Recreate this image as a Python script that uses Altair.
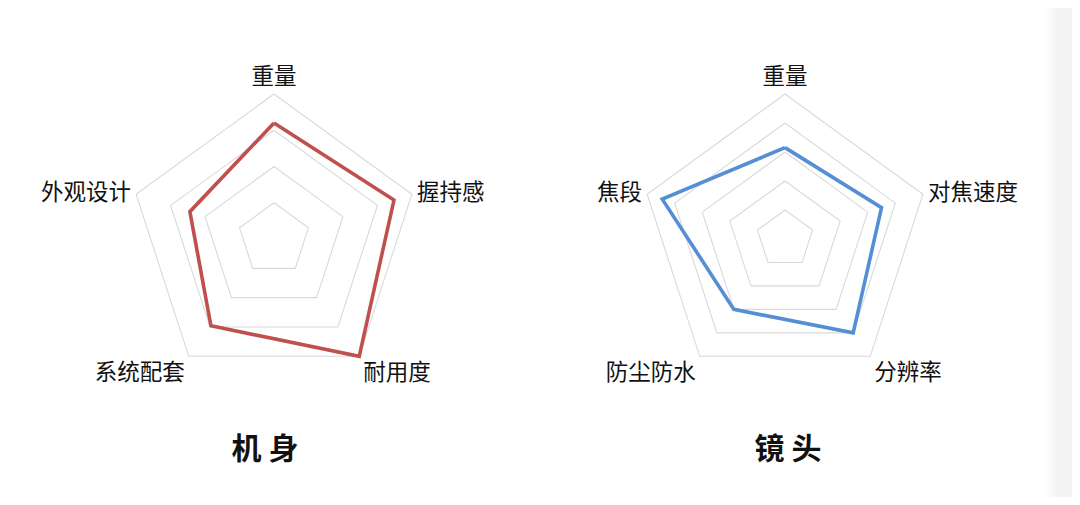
import altair as alt
import pandas as pd

# ---- data ----
body_axes = ["重量", "握持感", "耐用度", "系统配套", "外观设计"]
body_scores = [80, 87, 100, 74, 61]
body_rings = [25, 50, 75, 100]

lens_axes = ["重量", "对焦速度", "分辨率", "防尘防水", "焦段"]
lens_scores = [63, 70, 80, 60, 89]
lens_rings = [20, 40, 60, 80, 100]

panel_titles = ["机 身", "镜 头"]

# ---- layout ----
W, H = 1064, 489
R = 145
CY = 239
CX_EXPR = "datum.panel == 0 ? 274 : 785"
FONT = "Noto Sans CJK SC"

panels = [(body_axes, body_scores, body_rings), (lens_axes, lens_scores, lens_rings)]

series_rows, grid_rows, label_rows = [], [], []
for p, (axes, scores, rings) in enumerate(panels):
    n = len(axes)
    for i in range(n + 1):
        k = i % n
        series_rows.append(dict(panel=p, idx=i, k=k, n=n, v=scores[k]))
    for ring in rings:
        for i in range(n + 1):
            grid_rows.append(dict(panel=p, ring=ring, idx=i, k=i % n, n=n, v=ring))
    for k, a in enumerate(axes):
        label_rows.append(dict(panel=p, k=k, n=n, label=a))

title_rows = [dict(panel=p, label=t) for p, t in enumerate(panel_titles)]

series_df = pd.DataFrame(series_rows)
grid_df = pd.DataFrame(grid_rows)
label_df = pd.DataFrame(label_rows)
title_df = pd.DataFrame(title_rows)

xs = alt.Scale(domain=[8, 8 + W], nice=False, zero=False)
ys = alt.Scale(domain=[8 + H, 8], nice=False, zero=False)


def polar(ch):
    return ch.transform_calculate(
        theta="2*PI*datum.k/datum.n",
        cx=CX_EXPR,
    ).transform_calculate(
        x=f"datum.cx + {R}*datum.v/100*sin(datum.theta)",
        y=f"{CY} - {R}*datum.v/100*cos(datum.theta)",
    )


grid = polar(alt.Chart(grid_df)).mark_line(
    color="#d9d9d9", strokeWidth=1.1
).encode(
    x=alt.X("x:Q", scale=xs, axis=None),
    y=alt.Y("y:Q", scale=ys, axis=None),
    order="idx:Q",
    detail="gid:N",
).transform_calculate(gid="datum.panel + '_' + datum.ring")

series = polar(alt.Chart(series_df)).mark_line(
    strokeWidth=3.6, strokeJoin="miter"
).encode(
    x=alt.X("x:Q", scale=xs, axis=None),
    y=alt.Y("y:Q", scale=ys, axis=None),
    order="idx:Q",
    detail="panel:N",
    color=alt.Color(
        "panel:N",
        scale=alt.Scale(domain=[0, 1], range=["#c0504d", "#558ed5"]),
        legend=None,
    ),
)


def label_layer(cond, align):
    return alt.Chart(label_df).transform_calculate(
        theta="2*PI*datum.k/datum.n",
        cx=CX_EXPR,
    ).transform_calculate(
        s="sin(datum.theta)",
        c="cos(datum.theta)",
    ).transform_calculate(
        vx=f"datum.cx + {R}*datum.s",
        vy=f"{CY} - {R}*datum.c",
    ).transform_calculate(
        lx="datum.vx + (datum.s > 0.1 ? (datum.c < 0 ? 4 : 5) : (datum.s < -0.1 ? (datum.c < 0 ? -4 : -5) : 0))",
        ly="datum.vy + (datum.c > 0.9 ? -17 : (datum.c < -0.5 ? 17 : -1))",
    ).transform_filter(cond).mark_text(
        font=FONT, fontSize=22.5, color="#111111", align=align, baseline="middle"
    ).encode(
        x=alt.X("lx:Q", scale=xs, axis=None),
        y=alt.Y("ly:Q", scale=ys, axis=None),
        text="label:N",
    )


labels_c = label_layer("datum.s >= -0.1 && datum.s <= 0.1", "center")
labels_l = label_layer("datum.s > 0.1", "left")
labels_r = label_layer("datum.s < -0.1", "right")

titles = alt.Chart(title_df).transform_calculate(
    tx="datum.panel == 0 ? 265 : 788",
    ty="450",
).mark_text(
    font=FONT, fontSize=30, fontWeight="bold", color="#111111",
    align="center", baseline="middle"
).encode(
    x=alt.X("tx:Q", scale=xs, axis=None),
    y=alt.Y("ty:Q", scale=ys, axis=None),
    text="label:N",
)

edge_df = pd.DataFrame({"e": [0]})
edge_grad = alt.Chart(edge_df).mark_rect(
    color=alt.Gradient(
        gradient="linear",
        stops=[
            alt.GradientStop(color="#ffffff", offset=0),
            alt.GradientStop(color="#f3f3f3", offset=1),
        ],
        x1=0, x2=1, y1=0, y2=0,
    )
).encode(
    x=alt.value(1045 - 8), x2=alt.value(1059 - 8),
    y=alt.value(0), y2=alt.value(H + 8),
)
edge_band = alt.Chart(edge_df).mark_rect(color="#f4f4f4").encode(
    x=alt.value(1059 - 8), x2=alt.value(W + 8),
    y=alt.value(0), y2=alt.value(H + 8),
)

chart = alt.layer(
    edge_grad, edge_band, grid, series, labels_c, labels_l, labels_r, titles
).properties(
    width=W, height=H, padding=0, autosize=alt.AutoSizeParams(type="none")
).configure_view(stroke=None)

chart.save("out.html", embed_options={"renderer": "svg", "actions": False})
